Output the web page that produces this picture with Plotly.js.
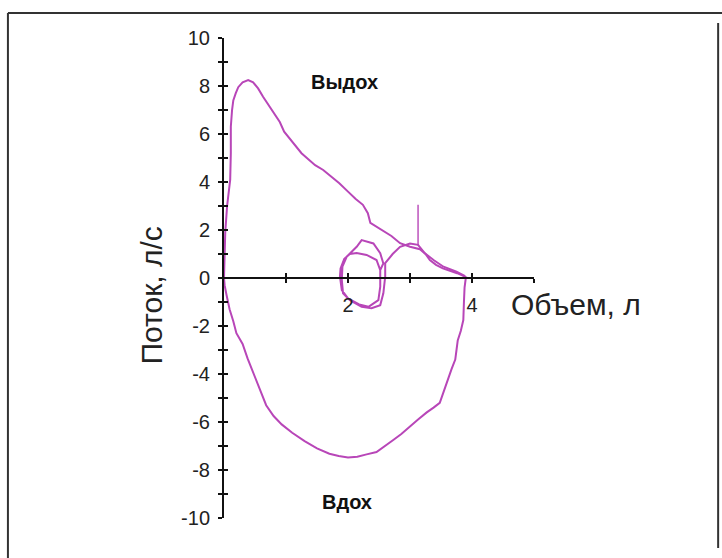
<!DOCTYPE html>
<html>
<head>
<meta charset="utf-8">
<script src="https://cdn.plot.ly/plotly-3.0.1.min.js"></script>
<style>html,body{margin:0;padding:0;background:#fff;}#chart{width:722px;height:558px;}</style>
</head>
<body>
<div id="chart"></div>
<script>
// Expiration limb (volume, L ; flow, L/s)
const expVolume = [0.00,0.01,0.02,0.05,0.08,0.10,0.11,0.11,0.13,0.15,0.19,0.23,0.30,0.39,0.47,0.55,0.63,0.72,0.82,0.90,0.97,1.05,1.15,1.25,1.36,1.47,1.60,1.74,1.86,2.00,2.12,2.24,2.32,2.36,2.45,2.56,2.70,2.84,3.00,3.16,3.25,3.32,3.42,3.53,3.65,3.76,3.85,3.92];
const expFlow   = [0.0,0.8,1.9,3.0,3.6,4.1,5.2,6.3,7.0,7.4,7.7,7.95,8.15,8.25,8.15,7.9,7.55,7.2,6.8,6.5,6.1,5.85,5.5,5.2,4.95,4.7,4.5,4.2,3.95,3.6,3.3,3.05,2.7,2.3,2.15,2.0,1.75,1.45,1.3,1.2,1.0,0.75,0.55,0.4,0.3,0.2,0.1,0.0];
// Inspiration limb
const inspVolume = [3.90,3.88,3.87,3.86,3.82,3.77,3.75,3.73,3.67,3.61,3.55,3.48,3.38,3.27,3.13,3.00,2.86,2.73,2.60,2.46,2.30,2.15,2.00,1.85,1.70,1.50,1.30,1.10,0.93,0.80,0.68,0.60,0.52,0.45,0.38,0.30,0.20,0.15,0.09,0.04,0.01,0.00];
const inspFlow   = [0.0,-0.4,-1.0,-1.75,-2.2,-2.6,-3.0,-3.4,-3.8,-4.25,-4.7,-5.2,-5.4,-5.6,-5.9,-6.2,-6.5,-6.75,-7.0,-7.25,-7.35,-7.45,-7.48,-7.42,-7.32,-7.1,-6.8,-6.45,-6.1,-5.75,-5.3,-4.8,-4.25,-3.8,-3.35,-2.75,-2.3,-1.8,-1.3,-0.7,-0.3,0.0];
// Tidal breathing loops and transition into forced expiration
const tidalVolume = [2.52,2.46,2.30,2.14,2.03,1.94,1.88,1.87,1.90,2.00,2.18,2.33,2.49,2.52,2.52,2.57,2.52,2.41,2.22,2.14,1.98,1.91,1.90,1.92,2.03,2.22,2.38,2.52,2.57,2.60,2.60,2.72,2.84,3.00,3.13,3.24,3.38,3.54,3.75,3.89];
const tidalFlow   = [0.33,0.75,0.96,1.04,1.0,0.8,0.4,0.06,-0.5,-0.85,-1.1,-1.2,-0.92,-0.36,0.33,0.61,1.03,1.44,1.58,1.3,0.89,0.47,-0.08,-0.64,-0.92,-1.2,-1.26,-1.13,-0.64,0.06,0.62,1.0,1.3,1.44,1.38,1.03,0.75,0.47,0.26,0.08];
// Artefact spike
const spikeVolume = [3.13,3.13];
const spikeFlow   = [1.35,3.05];

const yTicks = [-10,-9,-8,-7,-6,-5,-4,-3,-2,-1,0,1,2,3,4,5,6,7,8,9,10];
const yTickText = yTicks.map(v => (v % 2 === 0 ? String(v) : ''));
const xTicks = [1,2,3,4,5];
const xTickText = ['', '2', '', '4', ''];

const lineColor = '#b846b8';
const lineStyle = {color: lineColor, width: 2};
const font = 'Liberation Sans, Arial, sans-serif';

const traces = [
  {x: expVolume, y: expFlow, mode: 'lines', line: lineStyle, hoverinfo: 'skip'},
  {x: inspVolume, y: inspFlow, mode: 'lines', line: lineStyle, hoverinfo: 'skip'},
  {x: tidalVolume, y: tidalFlow, mode: 'lines', line: lineStyle, hoverinfo: 'skip'},
  {x: spikeVolume, y: spikeFlow, mode: 'lines', line: {color: lineColor, width: 1.4}, hoverinfo: 'skip'},
  {x: [null], y: [null], xaxis: 'x2', yaxis: 'y', mode: 'lines', hoverinfo: 'skip'},
  {x: [null], y: [null], xaxis: 'x', yaxis: 'y2', mode: 'lines', hoverinfo: 'skip'}
];

const axisCommon = {
  showgrid: false, zeroline: false, showline: true,
  linecolor: '#111', linewidth: 2, tickcolor: '#111', tickwidth: 1.5, ticklen: 4,
  fixedrange: true
};

const layout = {
  width: 722, height: 558,
  margin: {l: 224, r: 188, t: 38, b: 40},
  paper_bgcolor: '#fff', plot_bgcolor: 'rgba(0,0,0,0)',
  showlegend: false,
  font: {family: font, color: '#222'},
  xaxis: Object.assign({}, axisCommon, {
    range: [0, 5], anchor: 'free', position: 0.5,
    tickmode: 'array', tickvals: xTicks, ticktext: xTickText, ticks: 'outside',
    tickfont: {family: font, size: 20, color: '#222'}, ticklabelstandoff: 5
  }),
  xaxis2: Object.assign({}, axisCommon, {
    range: [0, 5], anchor: 'free', position: 0.5, overlaying: 'x',
    tickmode: 'array', tickvals: xTicks, ticks: 'inside', showticklabels: false
  }),
  yaxis: Object.assign({}, axisCommon, {
    range: [-10, 10],
    tickmode: 'array', tickvals: yTicks, ticktext: yTickText, ticks: 'outside',
    tickfont: {family: font, size: 20, color: '#222'}, ticklabelstandoff: 4
  }),
  yaxis2: Object.assign({}, axisCommon, {
    range: [-10, 10], overlaying: 'y', anchor: 'x', side: 'left',
    tickmode: 'array', tickvals: yTicks, ticks: 'inside', showticklabels: false
  }),
  annotations: [
    {text: '<b>Выдох</b>', x: 1.94, y: 8.17, xref: 'x', yref: 'y', showarrow: false,
     xanchor: 'center', yanchor: 'middle', font: {family: font, size: 20, color: '#111'}},
    {text: '<b>Вдох</b>', x: 1.98, y: -9.33, xref: 'x', yref: 'y', showarrow: false,
     xanchor: 'center', yanchor: 'middle', font: {family: font, size: 20, color: '#111'}},
    {text: 'Объем, л', x: 4.6, y: -1.1, xref: 'x', yref: 'y', xanchor: 'left', yanchor: 'middle', showarrow: false,
     font: {family: font, size: 30, color: '#222'}},
    {text: 'Поток, л/с', x: -0.237, y: 0.4625, xref: 'paper', yref: 'paper', textangle: -90, showarrow: false,
     xanchor: 'center', yanchor: 'middle', font: {family: font, size: 30, color: '#222'}}
  ],
  shapes: [
    {type: 'line', xref: 'paper', yref: 'paper', x0: -0.697, x1: 1.62, y0: 1.052, y1: 1.052, line: {color: '#333', width: 2}},
    {type: 'line', xref: 'paper', yref: 'paper', x0: -0.697, x1: -0.697, y0: 1.052, y1: -0.09, line: {color: '#333', width: 2}},
    {type: 'line', xref: 'paper', yref: 'paper', x0: 1.594, x1: 1.594, y0: 1.031, y1: -0.0625, line: {color: '#333', width: 2}}
  ]
};

Plotly.newPlot('chart', traces, layout, {staticPlot: true, displayModeBar: false});
</script>
</body>
</html>
